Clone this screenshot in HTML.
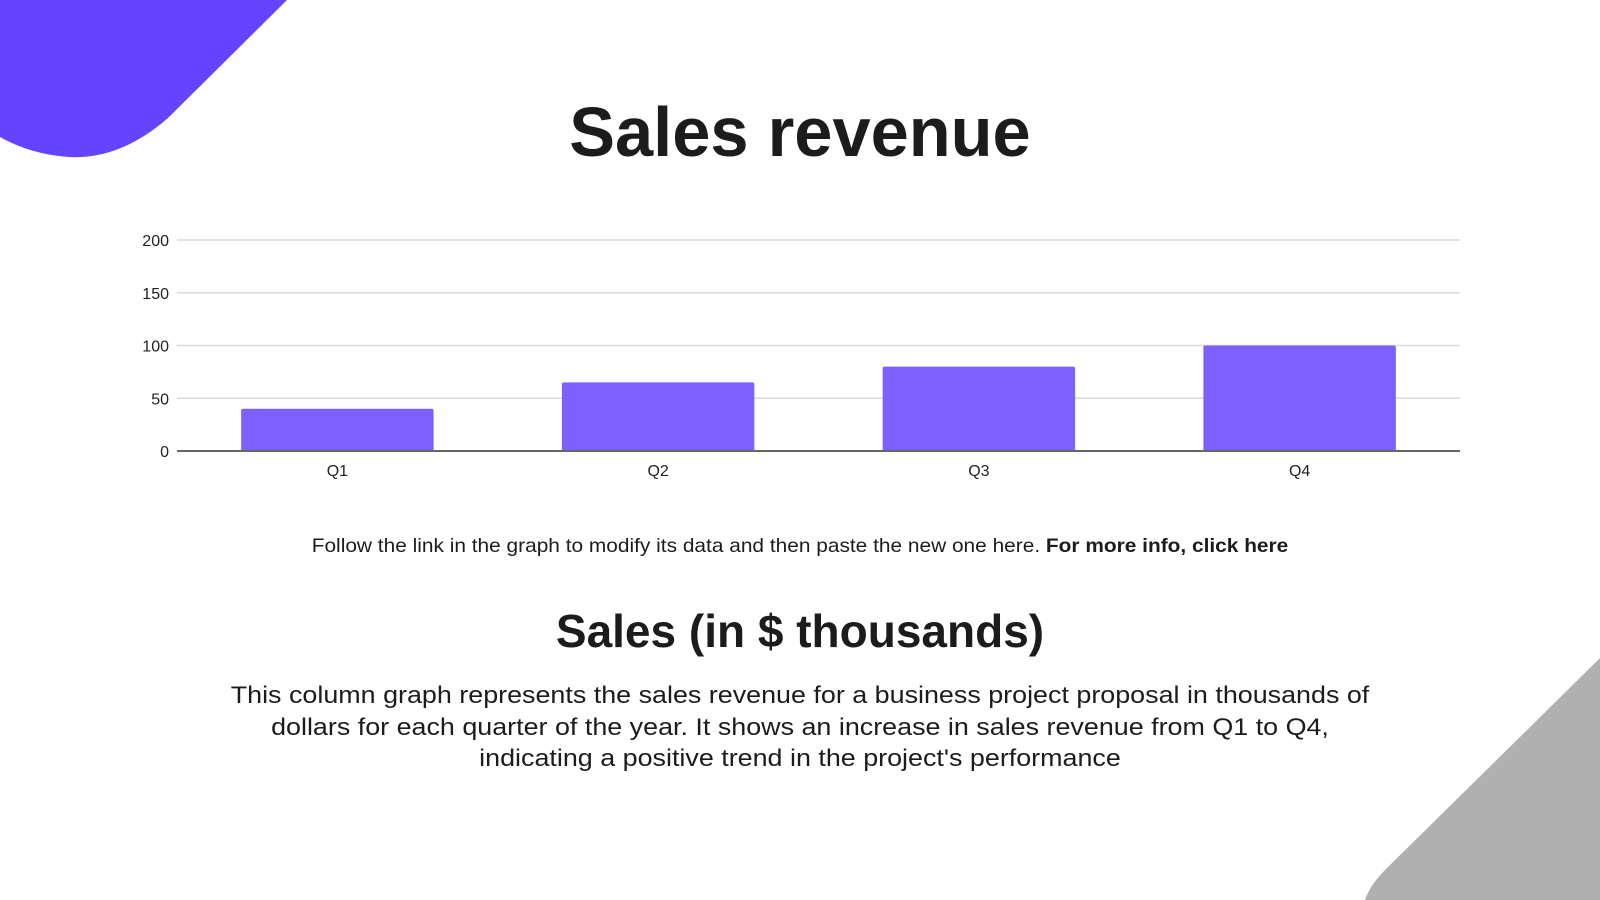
<!DOCTYPE html>
<html><head><meta charset="utf-8"><style>
html,body{margin:0;padding:0;width:1600px;height:900px;overflow:hidden;background:#fff;}
.t{position:absolute;left:0;width:1600px;text-align:center;white-space:nowrap;color:#1c1c1c;}
</style></head><body>
<svg width="1600" height="900" style="position:absolute;left:0;top:0">
<path d="M0,0 L287,0 L168,118 Q120,160 68,157 Q30,154 0,137 Z" fill="#6644ff"/>
<path d="M1600,658 L1600,900 L1365,900 Q1370,885 1385,870 Z" fill="#b0b0b0"/>
</svg>
<div class="t" style="top:92px;font:bold 70px 'Liberation Sans Narrow','Liberation Sans',sans-serif;transform:scaleX(0.98)">Sales revenue</div>
<svg id="chart" width="1600" height="900" style="position:absolute;left:0;top:0"></svg>
<div class="t" style="top:535px;font:19.5px 'Liberation Sans Narrow','Liberation Sans',sans-serif;transform:scaleX(1.07)">Follow the link in the graph to modify its data and then paste the new one here. <b>For more info, click here</b></div>
<div class="t" style="top:604px;font:bold 46px 'Liberation Sans Narrow','Liberation Sans',sans-serif;">Sales (in $ thousands)</div>
<div class="t" style="top:680px;font:24px/31.5px 'Liberation Sans Narrow','Liberation Sans',sans-serif;transform:scaleX(1.12)">This column graph represents the sales revenue for a business project proposal in thousands of<br>dollars for each quarter of the year. It shows an increase in sales revenue from Q1 to Q4,<br>indicating a positive trend in the project's performance</div>
<script>
const categories=["Q1","Q2","Q3","Q4"];
const sales=[40,65,80,100];
const yTicks=[0,50,100,150,200];
const NS="http://www.w3.org/2000/svg";
const svg=document.getElementById('chart');
const x0=177,x1=1460,y0=451,yTop=240,yMax=200;
const band=(x1-x0)/categories.length;
function y(v){return y0-(v/yMax)*(y0-yTop);}
function xc(i){return x0+band*(i+0.5);}
function el(t,a){const e=document.createElementNS(NS,t);for(const k in a)e.setAttribute(k,a[k]);svg.appendChild(e);return e;}
yTicks.forEach(v=>{
  if(v>0){const g=el('line',{x1:x0,x2:x1,y1:y(v),y2:y(v),stroke:'#d9d9d9','stroke-width':1.5});
  
  }
  const t=el('text',{x:169,y:y(v)+6,'text-anchor':'end','font-family':'Liberation Sans, sans-serif','font-size':16,fill:'#222'});
  t.textContent=v;
  
  
});
sales.forEach((v,i)=>{
  const w=band*0.6;
  const b=el('path',{fill:'#7e5fff',d:`M${xc(i)-w/2},${y0} L${xc(i)-w/2},${y(v)+2} Q${xc(i)-w/2},${y(v)} ${xc(i)-w/2+2},${y(v)} L${xc(i)+w/2-2},${y(v)} Q${xc(i)+w/2},${y(v)} ${xc(i)+w/2},${y(v)+2} L${xc(i)+w/2},${y0} Z`});
  
  
  const t=el('text',{x:xc(i),y:476,'text-anchor':'middle','font-family':'Liberation Sans, sans-serif','font-size':16,fill:'#222'});
  t.textContent=categories[i];
  
  
});
const ax=el('line',{x1:x0,x2:x1,y1:y0,y2:y0,stroke:'#666','stroke-width':2});


</script>
</body></html>
